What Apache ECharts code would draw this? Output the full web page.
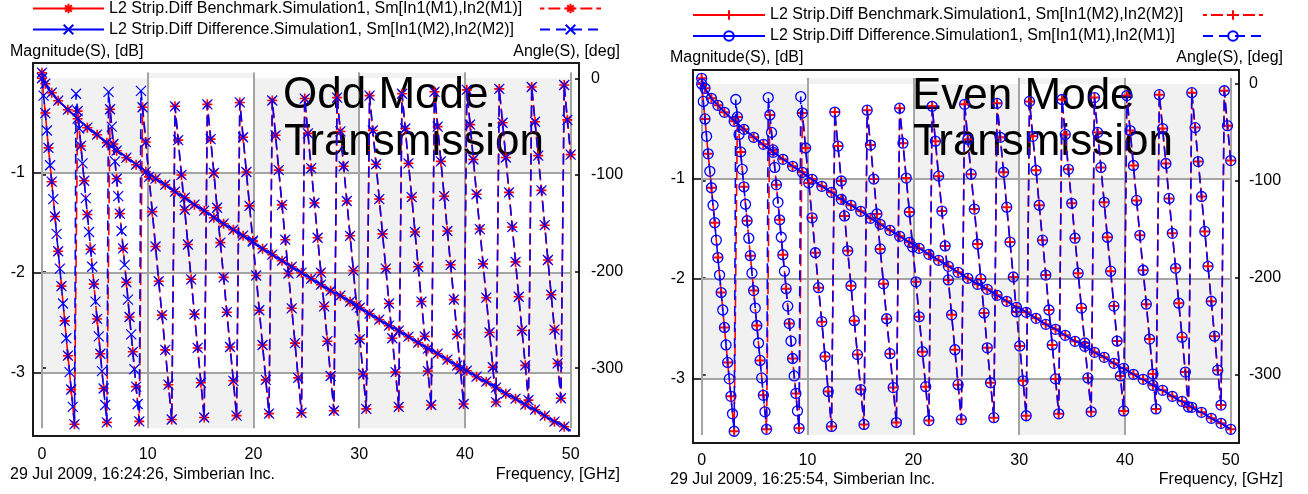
<!DOCTYPE html>
<html><head><meta charset="utf-8"><title>L2 Strip Diff - Odd / Even Mode Transmission</title>
<script src="https://cdn.jsdelivr.net/npm/echarts@6.0.0/dist/echarts.min.js"></script>
<style>
html,body{margin:0;padding:0;background:#fff;}
#wrap{position:relative;width:1308px;height:494px;overflow:hidden;}
.pane{position:absolute;top:0;height:494px;}
</style></head><body>
<div id="wrap"><div id="odd" class="pane" style="left:0;width:654px"></div><div id="even" class="pane" style="left:654px;width:654px"></div></div>
<script>
// ---------------- data ----------------
const freqGHz = [
0,0.31,0.61,0.92,1.23,1.53,1.84,2.15,2.45,2.76,
3.07,3.37,3.68,3.99,4.29,4.6,4.91,5.21,5.52,5.83,
6.13,6.44,6.75,7.06,7.36,7.67,7.98,8.28,8.59,8.9,
9.2,9.51,9.82,10.12,10.43,10.74,11.04,11.35,11.66,11.96,
12.27,12.58,12.88,13.19,13.5,13.8,14.11,14.42,14.72,15.03,
15.34,15.64,15.95,16.26,16.56,16.87,17.18,17.48,17.79,18.1,
18.4,18.71,19.02,19.33,19.63,19.94,20.25,20.55,20.86,21.17,
21.47,21.78,22.09,22.39,22.7,23.01,23.31,23.62,23.93,24.23,
24.54,24.85,25.15,25.46,25.77,26.07,26.38,26.69,26.99,27.3,
27.61,27.91,28.22,28.53,28.83,29.14,29.45,29.75,30.06,30.37,
30.67,30.98,31.29,31.6,31.9,32.21,32.52,32.82,33.13,33.44,
33.74,34.05,34.36,34.66,34.97,35.28,35.58,35.89,36.2,36.5,
36.81,37.12,37.42,37.73,38.04,38.34,38.65,38.96,39.26,39.57,
39.88,40.18,40.49,40.8,41.1,41.41,41.72,42.02,42.33,42.64,
42.94,43.25,43.56,43.87,44.17,44.48,44.79,45.09,45.4,45.71,
46.01,46.32,46.63,46.93,47.24,47.55,47.85,48.16,48.47,48.77,
49.08,49.39,49.69,50];

const magOddDb = [
0,-0.11,-0.16,-0.2,-0.24,-0.28,-0.31,-0.34,-0.37,-0.4,
-0.43,-0.46,-0.49,-0.52,-0.55,-0.57,-0.6,-0.62,-0.65,-0.68,
-0.7,-0.73,-0.75,-0.78,-0.8,-0.82,-0.85,-0.87,-0.89,-0.92,
-0.94,-0.96,-0.99,-1.01,-1.03,-1.06,-1.08,-1.1,-1.12,-1.14,
-1.17,-1.19,-1.21,-1.23,-1.25,-1.27,-1.3,-1.32,-1.34,-1.36,
-1.38,-1.4,-1.42,-1.45,-1.47,-1.49,-1.51,-1.53,-1.55,-1.57,
-1.59,-1.61,-1.63,-1.65,-1.67,-1.69,-1.72,-1.74,-1.76,-1.78,
-1.8,-1.82,-1.84,-1.86,-1.88,-1.9,-1.92,-1.94,-1.96,-1.98,
-2,-2.02,-2.04,-2.06,-2.08,-2.1,-2.12,-2.14,-2.16,-2.18,
-2.2,-2.21,-2.23,-2.25,-2.27,-2.29,-2.31,-2.33,-2.35,-2.37,
-2.39,-2.41,-2.43,-2.45,-2.47,-2.49,-2.51,-2.53,-2.55,-2.56,
-2.58,-2.6,-2.62,-2.64,-2.66,-2.68,-2.7,-2.72,-2.74,-2.76,
-2.77,-2.79,-2.81,-2.83,-2.85,-2.87,-2.89,-2.91,-2.93,-2.94,
-2.96,-2.98,-3,-3.02,-3.04,-3.06,-3.08,-3.09,-3.11,-3.13,
-3.15,-3.17,-3.19,-3.21,-3.23,-3.24,-3.26,-3.28,-3.3,-3.32,
-3.34,-3.36,-3.37,-3.39,-3.41,-3.43,-3.45,-3.47,-3.49,-3.5,
-3.52,-3.54,-3.56,-3.58];

const magEvenDb = [
0,-0.1,-0.15,-0.2,-0.24,-0.27,-0.3,-0.34,-0.37,-0.4,
-0.43,-0.45,-0.48,-0.51,-0.54,-0.56,-0.59,-0.61,-0.64,-0.66,
-0.69,-0.71,-0.74,-0.76,-0.78,-0.81,-0.83,-0.85,-0.88,-0.9,
-0.92,-0.94,-0.97,-0.99,-1.01,-1.03,-1.06,-1.08,-1.1,-1.12,
-1.14,-1.16,-1.19,-1.21,-1.23,-1.25,-1.27,-1.29,-1.31,-1.33,
-1.35,-1.37,-1.4,-1.42,-1.44,-1.46,-1.48,-1.5,-1.52,-1.54,
-1.56,-1.58,-1.6,-1.62,-1.64,-1.66,-1.68,-1.7,-1.72,-1.74,
-1.76,-1.78,-1.8,-1.82,-1.84,-1.86,-1.88,-1.9,-1.92,-1.94,
-1.96,-1.98,-2,-2.02,-2.04,-2.06,-2.07,-2.09,-2.11,-2.13,
-2.15,-2.17,-2.19,-2.21,-2.23,-2.25,-2.27,-2.29,-2.3,-2.32,
-2.34,-2.36,-2.38,-2.4,-2.42,-2.44,-2.46,-2.48,-2.49,-2.51,
-2.53,-2.55,-2.57,-2.59,-2.61,-2.63,-2.64,-2.66,-2.68,-2.7,
-2.72,-2.74,-2.76,-2.77,-2.79,-2.81,-2.83,-2.85,-2.87,-2.89,
-2.9,-2.92,-2.94,-2.96,-2.98,-3,-3.01,-3.03,-3.05,-3.07,
-3.09,-3.11,-3.12,-3.14,-3.16,-3.18,-3.2,-3.22,-3.23,-3.25,
-3.27,-3.29,-3.31,-3.33,-3.34,-3.36,-3.38,-3.4,-3.42,-3.43,
-3.45,-3.47,-3.49,-3.51];

const angleDeg = [
0,-36,-72,-107,-143,-179,-215,-251,-287,-322,
-358,-34,-70,-106,-141,-177,-213,-249,-285,-321,
-356,-32,-68,-104,-140,-176,-211,-247,-283,-319,
-355,-30,-66,-102,-138,-174,-210,-245,-281,-317,
-353,-29,-64,-100,-136,-172,-208,-244,-279,-315,
-351,-27,-63,-98,-134,-170,-206,-242,-278,-313,
-349,-25,-61,-97,-132,-168,-204,-240,-276,-312,
-347,-23,-59,-95,-131,-167,-202,-238,-274,-310,
-346,-21,-57,-93,-129,-165,-201,-236,-272,-308,
-344,-20,-55,-91,-127,-163,-199,-235,-270,-306,
-342,-18,-54,-89,-125,-161,-197,-233,-269,-304,
-340,-16,-52,-88,-123,-159,-195,-231,-267,-303,
-338,-14,-50,-86,-122,-158,-193,-229,-265,-301,
-337,-12,-48,-84,-120,-156,-192,-227,-263,-299,
-335,-11,-46,-82,-118,-154,-190,-226,-261,-297,
-333,-9,-45,-80,-116,-152,-188,-224,-260,-295,
-331,-7,-43,-79];

// extra low-frequency samples present only in the "Difference" (blue) traces
const extraFreqGHz = [0.15,0.46,0.77,1.07,1.38,1.69,1.99,2.3,2.61,2.91,3.22,3.53,3.83,4.14,4.45,4.75,5.06,5.37,5.67,5.98,6.29,6.6,6.9,7.21,7.52,7.82,8.13,8.44,8.74,9.05,9.36];
const extraAngleDeg = [-18,-54,-90,-125,-161,-197,-233,-269,-304,-340,-16,-52,-88,-124,-159,-195,-231,-267,-303,-338,-14,-50,-86,-122,-158,-193,-229,-265,-301,-337,-13];
const extraMagOddDb = [-0.07,-0.13,-0.18,-0.22,-0.26,-0.29,-0.33,-0.36,-0.39,-0.42,-0.45,-0.48,-0.5,-0.53,-0.56,-0.59,-0.61,-0.64,-0.66,-0.69,-0.71,-0.74,-0.76,-0.79,-0.81,-0.84,-0.86,-0.88,-0.91,-0.93,-0.95];
const extraMagEvenDb = [-0.07,-0.13,-0.18,-0.22,-0.25,-0.29,-0.32,-0.35,-0.38,-0.41,-0.44,-0.47,-0.49,-0.52,-0.55,-0.57,-0.6,-0.63,-0.65,-0.68,-0.7,-0.72,-0.75,-0.77,-0.8,-0.82,-0.84,-0.87,-0.89,-0.91,-0.93];

const xTicks = [0,10,20,30,40,50];
const dbTicks = [-3,-2,-1];
const degTicks = [-300,-200,-100,0];

const oddNames = ['L2 Strip.Diff Benchmark.Simulation1, Sm[In1(M1),In2(M1)]','L2 Strip.Diff Difference.Simulation1, Sm[In1(M2),In2(M2)]'];
const evenNames = ['L2 Strip.Diff Benchmark.Simulation1, Sm[In1(M2),In2(M2)]','L2 Strip.Diff Difference.Simulation1, Sm[In1(M1),In2(M1)]'];

// ---------------- styling / layout ----------------
const FONT = '"Liberation Sans", Arial, Helvetica, sans-serif';
const RED = '#ff0000', BLUE = '#0000ff';
const SYM_STAR = 'path://M5,0L5,10M0,5L10,5M1.6,1.6L8.4,8.4M8.4,1.6L1.6,8.4';
const SYM_X = 'path://M0,0L10,10M10,0L0,10';
const SYM_PLUS = 'path://M5,0L5,10M0,5L10,5';
const MARKER_GAP = 9;            // px: markers closer than this to the previous drawn marker are skipped
const BLUE_DASH = [10,6], RED_DASH = [12,4];

const panels = [
  { el:'odd', divLeft:0, grid:{left:33, top:63, width:546, height:373},
    x:[-0.851, 50.79], db:[-3.633, 0.097], deg:[-370.1, 15.8],
    shadeRows:[0,-0.056,-1,-2,-3,-3.556],
    names: oddNames, mag: magOddDb, extraMag: extraMagOddDb,
    red:{symbol:SYM_STAR, size:10, item:{color:RED, borderColor:RED, borderWidth:1.6}},
    blue:{symbol:SYM_X, size:10, item:{color:BLUE, borderColor:BLUE, borderWidth:1.2}},
    legendX:32, legendW:71, legendY:-2, legend2X:539, legend2W:61,
    title:['Odd Mode','Transmission'], titleX:[283,284], titleY:[96,143],
    axisNameY:52, leftTextX:10, rightTextX:620,
    stamp:'29 Jul 2009, 16:24:26, Simberian Inc.', footY:475,
    labMargin:{x:11, l:8, r:12} },
  { el:'even', divLeft:654, grid:{left:693, top:70, width:546, height:373},
    x:[-0.822, 50.78], db:[-3.647, 0.083], deg:[-370.1, 14.4],
    shadeRows:[0,-0.057,-1,-2,-3,-3.567],
    names: evenNames, mag: magEvenDb, extraMag: extraMagEvenDb,
    red:{symbol:SYM_PLUS, size:9, item:{color:RED, borderColor:RED, borderWidth:2}},
    blue:{symbol:'circle', size:10, item:{color:'rgba(0,0,0,0)', borderColor:BLUE, borderWidth:1.3}},
    legendX:692, legendW:72, legendY:4.5, legend2X:1202, legend2W:60,
    title:['Even Mode','Transmission'], titleX:[912,913], titleY:[97,143],
    axisNameY:58, leftTextX:670, rightTextX:1283,
    stamp:'29 Jul 2009, 16:25:54, Simberian Inc.', footY:480,
    labMargin:{x:10, l:8, r:10} }
];

function pairs(xs, ys){ return xs.map((x,i)=>[x, ys[i]]); }
function merged(xs, ys, ex, ey){ return pairs(xs,ys).concat(pairs(ex,ey)).sort((a,b)=>a[0]-b[0]); }
function markerMask(pts, sx, sy){
  let last = null;
  return pts.map(p => {
    if (!last || Math.hypot((p[0]-last[0])*sx, (p[1]-last[1])*sy) >= MARKER_GAP) { last = p; return true; }
    return false;
  });
}
function blueMask(pts, redPts, redMask, sx, sy){
  const shown = new Set(redPts.filter((p,i)=>redMask[i]).map(p=>p[0]));
  const main = new Set(redPts.map(p=>p[0]));
  return pts.map((p,i) => {
    if (main.has(p[0])) return shown.has(p[0]);
    const d = q => q ? Math.hypot((p[0]-q[0])*sx, (p[1]-q[1])*sy) : Infinity;
    return d(pts[i-1]) >= MARKER_GAP && d(pts[i+1]) >= MARKER_GAP;
  });
}
// on-screen length of a polyline up to frequency fMax (used to keep the two dash patterns in phase)
function pxLen(pts, sx, sy, fMax){
  let L = 0;
  for (let i = 1; i < pts.length && pts[i][0] <= fMax; i++)
    L += Math.hypot((pts[i][0]-pts[i-1][0])*sx, (pts[i][1]-pts[i-1][1])*sy);
  return L;
}

function buildOption(p){
  const o = p.divLeft;
  const tickStyle = {color:'#000', width:1.5};
  const labelStyle = {fontFamily:FONT, fontSize:16, color:'#000'};
  const g = {left:p.grid.left-o, top:p.grid.top, width:p.grid.width, height:p.grid.height,
             show:true, borderColor:'#1a1a1a', borderWidth:2, backgroundColor:'rgba(0,0,0,0)'};
  const xAxis = [
    {gridIndex:0, type:'value', position:'bottom', min:p.x[0], max:p.x[1], axisLine:{show:false}, splitLine:{show:false},
     axisTick:{show:true, customValues:xTicks, length:7, lineStyle:tickStyle},
     axisLabel:Object.assign({customValues:xTicks, margin:p.labMargin.x}, labelStyle)},
    {gridIndex:0, type:'value', position:'bottom', min:p.x[0], max:p.x[1], axisLine:{show:false}, splitLine:{show:false},
     axisTick:{show:true, inside:true, customValues:xTicks, length:4, lineStyle:tickStyle}, axisLabel:{show:false}}
  ];
  const yAxis = [
    {gridIndex:0, type:'value', position:'left', min:p.db[0], max:p.db[1], axisLine:{show:false}, splitLine:{show:false},
     axisTick:{show:true, customValues:dbTicks, length:4, lineStyle:tickStyle},
     axisLabel:Object.assign({customValues:dbTicks, margin:p.labMargin.l}, labelStyle)},
    {gridIndex:0, type:'value', position:'right', min:p.deg[0], max:p.deg[1], axisLine:{show:false}, splitLine:{show:false},
     axisTick:{show:true, customValues:degTicks, length:4, lineStyle:tickStyle},
     axisLabel:Object.assign({customValues:degTicks, margin:p.labMargin.r}, labelStyle)},
    {gridIndex:0, type:'value', position:'left', min:p.db[0], max:p.db[1], axisLine:{show:false}, splitLine:{show:false},
     axisTick:{show:true, inside:true, customValues:dbTicks, length:8, lineStyle:tickStyle}, axisLabel:{show:false}},
    {gridIndex:0, type:'value', position:'right', min:p.deg[0], max:p.deg[1], axisLine:{show:false}, splitLine:{show:false},
     axisTick:{show:true, inside:true, customValues:degTicks, length:4, lineStyle:tickStyle}, axisLabel:{show:false}}
  ];

  // background checkerboard and grid lines
  const rows = p.shadeRows;
  const cells = [];
  for (let r = 0; r < rows.length-1; r++)
    for (let c = 0; c < xTicks.length-1; c++)
      if ((r + c) % 2 === 1) cells.push([{xAxis:xTicks[c], yAxis:rows[r]}, {xAxis:xTicks[c+1], yAxis:rows[r+1]}]);
  const lines = [];
  xTicks.forEach(x => lines.push([{coord:[x, rows[0]]}, {coord:[x, rows[rows.length-1]]}]));
  dbTicks.forEach(y => lines.push([{coord:[xTicks[0], y]}, {coord:[xTicks[xTicks.length-1], y]}]));

  // pixel scales
  const sx = p.grid.width/(p.x[1]-p.x[0]);
  const sDb = p.grid.height/(p.db[1]-p.db[0]);
  const sDeg = p.grid.height/(p.deg[1]-p.deg[0]);

  const redMag = pairs(freqGHz, p.mag);
  const redAngle = pairs(freqGHz, angleDeg);
  const blueMag = merged(freqGHz, p.mag, extraFreqGHz, p.extraMag);
  const blueAngle = merged(freqGHz, angleDeg, extraFreqGHz, extraAngleDeg);
  const mRedMag = markerMask(redMag, sx, sDb);
  const mRedAng = markerMask(redAngle, sx, sDeg);
  const mBlueMag = blueMask(blueMag, redMag, mRedMag, sx, sDb);
  const mBlueAng = blueMask(blueAngle, redAngle, mRedAng, sx, sDeg);
  const sizer = (mask, size) => (v, prm) => mask[prm.dataIndex] ? size : 0;

  // red dash pattern peeks out 1px at both ends of every blue dash once the two traces coincide
  const fAlign = freqGHz.find(f => f > Math.max.apply(null, extraFreqGHz));
  const redOffset = pxLen(blueAngle, sx, sDeg, fAlign) - pxLen(redAngle, sx, sDeg, fAlign) + 1;

  const [redName, blueName] = p.names;
  const redAng = redName + ' \u2013 Angle(S)', blueAng = blueName + ' \u2013 Angle(S)';
  const common = {type:'line', xAxisIndex:0, showAllSymbol:true, silent:true, animation:false, emphasis:{disabled:true}};
  const series = [
    Object.assign({}, common, {name:'grid', yAxisIndex:0, data:[], z:0, symbol:'none',
      markArea:{silent:true, z:0, itemStyle:{color:'#f1f1f1'}, data:cells},
      markLine:{silent:true, z:1, symbol:['none','none'], animation:false, label:{show:false},
                lineStyle:{color:'#a4a4a4', width:2, type:'solid'}, data:lines}}),
    Object.assign({}, common, {name:redName, yAxisIndex:0, z:3, data:redMag,
      symbol:p.red.symbol, symbolSize:sizer(mRedMag, p.red.size), itemStyle:p.red.item, lineStyle:{color:RED, width:1.8}}),
    Object.assign({}, common, {name:redAng, yAxisIndex:1, z:3, data:redAngle,
      symbol:p.red.symbol, symbolSize:sizer(mRedAng, p.red.size), itemStyle:p.red.item,
      lineStyle:{color:RED, width:1.6, type:RED_DASH, dashOffset:redOffset}}),
    Object.assign({}, common, {name:blueName, yAxisIndex:0, z:4, data:blueMag,
      symbol:p.blue.symbol, symbolSize:sizer(mBlueMag, p.blue.size), itemStyle:p.blue.item, lineStyle:{color:BLUE, width:1.8}}),
    Object.assign({}, common, {name:blueAng, yAxisIndex:1, z:4, data:blueAngle,
      symbol:p.blue.symbol, symbolSize:sizer(mBlueAng, p.blue.size), itemStyle:p.blue.item,
      lineStyle:{color:BLUE, width:1.6, type:BLUE_DASH, dashOffset:0}})
  ];

  const legendText = {fontFamily:FONT, fontSize:16, color:'#000', lineHeight:21};
  const legend = [
    {orient:'vertical', left:p.legendX-o, top:p.legendY, padding:0, itemWidth:p.legendW, itemHeight:12, itemGap:0,
     selectedMode:false, textStyle:legendText, data:[redName, blueName]},
    {orient:'vertical', left:p.legend2X-o, top:p.legendY, padding:0, itemWidth:p.legend2W, itemHeight:12, itemGap:0,
     selectedMode:false, textStyle:legendText, formatter:()=>' ', data:[redAng, blueAng]}
  ];

  const txt = (text, x, y, align, size, z) => ({type:'text', x:x-o, y:y, z:(z===undefined?10:z), silent:true,
      style:{text:text, fontFamily:FONT, fontSize:size||16, fill:'#000', align:align||'left', verticalAlign:'middle'}});
  const graphic = [
    txt(p.title[0], p.titleX[0], p.titleY[0], 'left', 44, 2),
    txt(p.title[1], p.titleX[1], p.titleY[1], 'left', 44, 2),
    txt('Magnitude(S), [dB]', p.leftTextX, p.axisNameY, 'left'),
    txt('Angle(S), [deg]', p.rightTextX, p.axisNameY, 'right'),
    txt(p.stamp, p.leftTextX, p.footY, 'left'),
    txt('Frequency, [GHz]', p.rightTextX, p.footY, 'right')
  ];

  return {animation:false, backgroundColor:'rgba(0,0,0,0)', textStyle:{fontFamily:FONT},
          grid:[g], xAxis, yAxis, series, legend, graphic};
}

panels.forEach(p => {
  const chart = echarts.init(document.getElementById(p.el), null, {renderer:'canvas'});
  chart.setOption(buildOption(p));
});
</script>
</body></html>
